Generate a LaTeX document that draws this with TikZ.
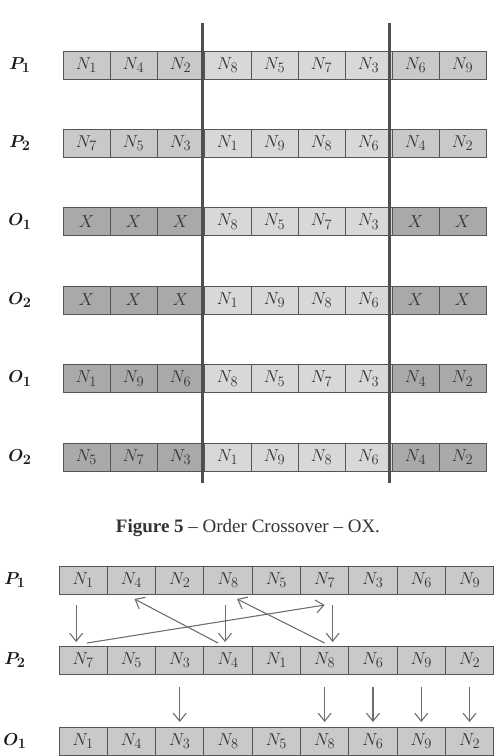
\documentclass[tikz,border=0pt]{standalone}
\usepackage{fontspec}
\setmainfont{Liberation Serif}
\usepackage{bm}
\usepackage{tikz}
\usetikzlibrary{calc,positioning,arrows.meta}
\definecolor{cellline}{HTML}{555555}
\definecolor{midfill}{HTML}{D8D8D8}
\definecolor{parfill}{HTML}{C9C9C9}
\definecolor{offfill}{HTML}{A9A9A9}
\definecolor{cutbar}{HTML}{4F4F4F}
\definecolor{arrowgray}{HTML}{6E6E6E}
\definecolor{captext}{HTML}{333333}

\tikzset{
  cell/.style={rectangle, draw=cellline, line width=0.9pt, inner sep=0pt, outer sep=0pt,
    minimum height=28pt, font=\fontsize{19}{21}\selectfont, text=black!80},
  rowlabel/.style={font=\fontsize{19}{21}\selectfont, text=black!90},
  cutline/.style={line width=3.6pt, cutbar},
  moveto/.style={-{Straight Barb[length=8pt, width=13pt]}, line width=1.1pt, arrowgray},
}

\begin{document}
\begin{tikzpicture}[x=1pt, y=-1pt]
  \useasboundingbox (0,0) rectangle (498,756);

  % Top: order crossover, two cut points
  \foreach \rname/\rlab/\ry/\outer/\cells in {
      tpa/P_1/65/parfill/{N_1,N_4,N_2,N_8,N_5,N_7,N_3,N_6,N_9},
      tpb/P_2/143/parfill/{N_7,N_5,N_3,N_1,N_9,N_8,N_6,N_4,N_2},
      toa/O_1/221.5/offfill/{X,X,X,N_8,N_5,N_7,N_3,X,X},
      tob/O_2/300/offfill/{X,X,X,N_1,N_9,N_8,N_6,X,X},
      toc/O_1/378.5/offfill/{N_1,N_9,N_6,N_8,N_5,N_7,N_3,N_4,N_2},
      tod/O_2/457/offfill/{N_5,N_7,N_3,N_1,N_9,N_8,N_6,N_4,N_2}} {
    \node[rowlabel] (\rname-lab) at (20,\ry) {$\bm{\rlab}$};
    \foreach \c [count=\i] in \cells {
      \pgfmathtruncatemacro\inmid{and(\i>3,\i<8)}
      \ifnum\inmid=1 \def\cellfill{midfill}\else\def\cellfill{\outer}\fi
      \node[cell, fill=\cellfill, minimum width=47pt, anchor=west] (\rname-\i)
        at ({63+47*(\i-1)},\ry) {$\c$};
    }
  }

  % Cut points
  \draw[cutline] ([xshift=-1.5pt, yshift=28pt]tpa-3.north east) -- ([xshift=-1.5pt, yshift=-12pt]tod-3.south east);
  \draw[cutline] ([xshift=-2.5pt, yshift=28pt]tpa-7.north east) -- ([xshift=-2.5pt, yshift=-12pt]tod-7.south east);

  % Caption
  \node[font=\fontsize{19}{22}\selectfont, text=captext] (caption) at (248,528)
    {\textbf{Figure 5} -- Order Crossover -- OX.};

  % Bottom: moving genes between parents
  \foreach \rname/\rlab/\ry/\cells in {
      bpa/P_1/580/{N_1,N_4,N_2,N_8,N_5,N_7,N_3,N_6,N_9},
      bpb/P_2/660/{N_7,N_5,N_3,N_4,N_1,N_8,N_6,N_9,N_2},
      boa/O_1/741/{N_1,N_4,N_3,N_8,N_5,N_8,N_6,N_9,N_2}} {
    \node[rowlabel] (\rname-lab) at (15,\ry) {$\bm{\rlab}$};
    \foreach \c [count=\i] in \cells {
      \node[cell, fill=parfill, minimum width=48.3pt, anchor=west] (\rname-\i)
        at ({59+48.3*(\i-1)},\ry) {$\c$};
    }
  }

  % Swaps between P1 and P2
  \draw[moveto] ([xshift=-7pt, yshift=-11pt]bpa-1.south) -- ([xshift=-7pt, yshift=4pt]bpb-1.north);
  \draw[moveto] ([xshift=4pt, yshift=3pt]bpb-1.north) -- ([yshift=-11pt]bpa-6.south);
  \draw[moveto] ([xshift=-3pt, yshift=-11pt]bpa-4.south) -- ([xshift=-3pt, yshift=4pt]bpb-4.north);
  \draw[moveto] ([xshift=-10pt, yshift=3pt]bpb-4.north) -- ([xshift=3pt, yshift=-5pt]bpa-2.south);
  \draw[moveto] ([xshift=8pt, yshift=-11pt]bpa-6.south) -- ([xshift=8pt, yshift=4pt]bpb-6.north);
  \draw[moveto] ([yshift=3pt]bpb-6.north) -- ([xshift=9pt, yshift=-5pt]bpa-4.south);

  % Copy down to the offspring
  \foreach \i in {3,6,7,8,9}
    \draw[moveto] ([yshift=-13pt]bpb-\i.south) -- ([yshift=5pt]boa-\i.north);

\end{tikzpicture}
\end{document}
